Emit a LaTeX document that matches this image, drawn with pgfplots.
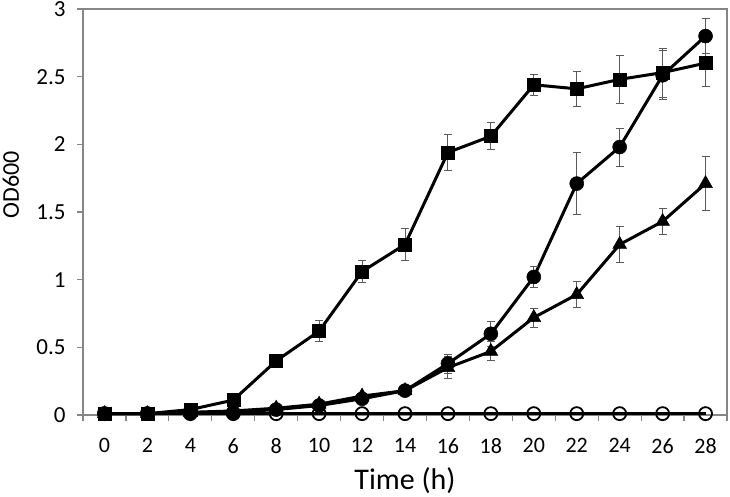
\documentclass[border=0pt]{standalone}
\usepackage{pgfplots}
\pgfplotsset{compat=1.18}
\usepackage{pgfplotstable}
\usepackage{fontspec}
\setmainfont{Carlito}
\definecolor{axisgray}{HTML}{868686}
\definecolor{errgray}{HTML}{5A5A5A}
% x index: 0..14 stands for 0,2,...,28 h
\pgfplotstableread{
x y e
0 0.01 0
1 0.01 0
2 0.04 0
3 0.11 0
4 0.40 0.02
5 0.62 0.075
6 1.06 0.08
7 1.26 0.12
8 1.94 0.135
9 2.06 0.10
10 2.44 0.08
11 2.41 0.13
12 2.48 0.18
13 2.53 0.18
14 2.60 0.17
}\squares
\pgfplotstableread{
x y e
0 0.01 0
1 0.01 0
2 0.02 0
3 0.03 0
4 0.05 0.01
5 0.08 0.01
6 0.14 0.02
7 0.18 0.02
8 0.35 0.08
9 0.47 0.07
10 0.72 0.07
11 0.89 0.095
12 1.26 0.13
13 1.43 0.095
14 1.71 0.20
}\triangles
\pgfplotstableread{
x y e
0 0.01 0
1 0.01 0
2 0.02 0
3 0.02 0
4 0.04 0.01
5 0.07 0.01
6 0.12 0.02
7 0.18 0.02
8 0.38 0.07
9 0.60 0.09
10 1.02 0.08
11 1.71 0.23
12 1.98 0.14
13 2.51 0.18
14 2.80 0.13
}\circles
\pgfplotstableread{
x y
0 0.01
1 0.01
2 0.01
3 0.01
4 0.01
5 0.01
6 0.01
7 0.01
8 0.01
9 0.01
10 0.01
11 0.01
12 0.01
13 0.01
14 0.01
}\opencircles
\begin{document}
\begin{tikzpicture}
\path[use as bounding box] (-83pt,-82pt) rectangle (647pt,415pt);
\begin{axis}[
  at={(0pt,0pt)}, anchor=south west,
  scale only axis, width=644pt, height=406pt,
  xmin=-0.5, xmax=14.5, ymin=0, ymax=3,
  axis line style={draw=axisgray, line width=1.2pt},
  xtick={0,...,14},
  xticklabels={0,2,4,6,8,10,12,14,16,18,20,22,24,26,28},
  minor xtick={-0.5,0.5,...,14.5},
  ytick={0,0.5,1,1.5,2,2.5,3},
  yticklabels={0,0.5,1,1.5,2,2.5,3},
  tick align=outside, xtick pos=bottom, ytick pos=left,
  tick style={draw=axisgray, line width=1.2pt},
  major x tick style={draw=none},
  major tick length=6pt, minor tick length=6pt,
  /pgf/number format/assume math mode=true,
  xticklabel style={font=\fontsize{22}{24}\selectfont, text=black, anchor=north, yshift=-14pt},
  yticklabel style={font=\fontsize{23}{25}\selectfont, text=black, anchor=east, xshift=-8pt},
  xlabel={Time (h)},
  ylabel={OD600},
  xlabel style={font=\fontsize{30}{32}\selectfont, at={(axis description cs:0.5,0)}, anchor=center, yshift=-66pt},
  ylabel style={font=\fontsize{24}{26}\selectfont, at={(axis description cs:-0.112,0.567)}, anchor=center, rotate=0},
  clip=false,
  error bars/y dir=both, error bars/y explicit,
  error bars/error bar style={draw=errgray, line width=0.9pt},
  error bars/error mark options={rotate=90, mark size=4pt, draw=errgray, line width=0.9pt},
]
\addplot[black, line width=3pt, mark=square*, mark size=6.5pt, mark options={solid, fill=black, line width=0.5pt}]
  table[x=x, y=y, y error=e] {\squares};
\addplot[black, line width=3pt, mark=triangle*, mark size=8pt, mark options={solid, fill=black, line width=0.5pt}]
  table[x=x, y=y, y error=e] {\triangles};
\addplot[black, line width=3pt, mark=*, mark size=7pt, mark options={solid, fill=black, line width=0.5pt}]
  table[x=x, y=y, y error=e] {\circles};
\addplot[black, line width=3pt, mark=o, mark size=6.5pt, mark options={solid, fill=white, line width=1.8pt}, error bars/y dir=none]
  table[x=x, y=y] {\opencircles};
\end{axis}
\end{tikzpicture}
\end{document}
